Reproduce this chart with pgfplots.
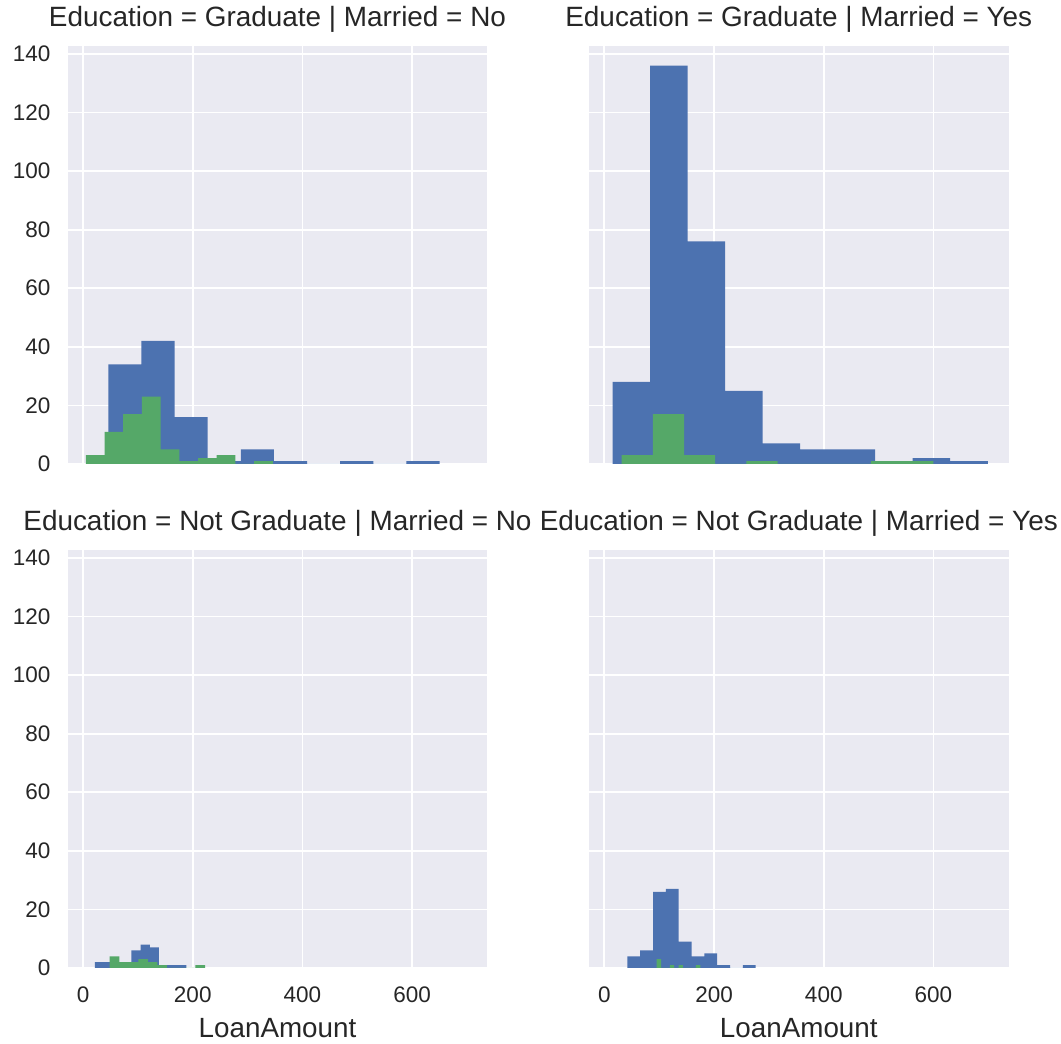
\documentclass[border=0pt]{standalone}
\usepackage{fontspec}
\setmainfont{Liberation Sans}
\usepackage{pgfplots}
\pgfplotsset{compat=1.18}

\definecolor{sbblue}{HTML}{4C72B0}
\definecolor{sbgreen}{HTML}{55A868}
\definecolor{sbbg}{HTML}{EAEAF2}
\definecolor{sbtext}{HTML}{262626}

\pgfplotsset{
  facet/.style={
    scale only axis, width=419.6pt, height=418.3pt,
    xmin=-28, xmax=737, ymin=0, ymax=142.8,
    xtick={0,200,400,600}, ytick={0,20,...,140},
    axis background/.style={fill=sbbg},
    axis line style={draw=none},
    major tick length=0pt,
    grid=major, major grid style={white, line width=1.8pt},
    /pgf/number format/assume math mode=true,
    tick label style={font=\fontsize{22.5}{26}\selectfont, text=sbtext, inner sep=0pt},
    xticklabel style={anchor=north, yshift=-19pt},
    yticklabel style={anchor=east, xshift=-17pt},
    title style={at={(axis description cs:0.5,1)}, anchor=base, yshift=13pt,
      font=\fontsize{27.9}{33}\selectfont, text=sbtext, inner sep=0pt},
    xlabel style={at={(axis description cs:0.5,0)}, anchor=base, yshift=-70pt,
      font=\fontsize{27.8}{33}\selectfont, text=sbtext, inner sep=0pt},
  },
  blue bars/.style={ybar interval, fill=sbblue, draw=none},
  green bars/.style={ybar interval, fill=sbgreen, draw=none},
}

\begin{document}
\begin{tikzpicture}
\path[use as bounding box] (0pt,0pt) rectangle (1061pt,1044pt);

% Graduate, not married
\begin{axis}[facet, at={(67.7pt,580pt)}, xticklabels={},
  title={Education = Graduate | Married = No}]
\addplot[blue bars] coordinates {(46,34) (106.4,42) (166.8,16) (227.2,1) (287.6,5)
  (348,1) (408.4,0) (468.8,1) (529.2,0) (589.6,1) (650,0)};
\addplot[green bars] coordinates {(5,3) (39.1,11) (73.2,17) (107.3,23) (141.4,5)
  (175.5,1) (209.6,2) (243.7,3) (277.8,0) (311.9,1) (346,0)};
\end{axis}

% Graduate, married
\begin{axis}[facet, at={(589pt,580pt)}, xticklabels={}, yticklabels={},
  title={Education = Graduate | Married = Yes}]
\addplot[blue bars] coordinates {(15,28) (83.4,136) (151.8,76) (220.2,25) (288.6,7)
  (357,5) (425.4,5) (493.8,1) (562.2,2) (630.6,1) (699,0)};
\addplot[green bars] coordinates {(31.7,3) (88.5,17) (145.3,3) (202.1,0) (258.9,1)
  (315.7,0) (372.5,0) (429.3,0) (486.1,1) (542.9,1) (599.7,0)};
\end{axis}

% Not graduate, not married
\begin{axis}[facet, at={(67.7pt,76pt)}, xlabel={LoanAmount},
  title={Education = Not Graduate | Married = No}]
\addplot[blue bars] coordinates {(21.5,2) (38.2,2) (54.9,0) (71.6,1) (88.3,6)
  (105,8) (121.7,7) (138.4,1) (155.1,1) (171.8,1) (188.5,0)};
\addplot[green bars] coordinates {(48.6,4) (66,2) (83.4,2) (100.7,3) (118.1,2)
  (135.5,1) (152.9,0) (170.3,0) (187.6,0) (205,1) (222.4,0)};
\end{axis}

% Not graduate, married
\begin{axis}[facet, at={(589pt,76pt)}, yticklabels={}, xlabel={LoanAmount},
  title={Education = Not Graduate | Married = Yes}]
\addplot[blue bars] coordinates {(41.9,4) (65.3,6) (88.7,26) (112.1,27) (135.5,9)
  (158.9,4) (182.3,5) (205.7,1) (229.1,0) (252.5,1) (275.9,0)};
\addplot[green bars] coordinates {(95.4,3) (103.36,0) (111.32,0) (119.28,1) (127.24,0)
  (135.2,1) (143.16,0) (151.12,0) (159.08,0) (167.04,1) (175,0)};
\end{axis}
\end{tikzpicture}
\end{document}
